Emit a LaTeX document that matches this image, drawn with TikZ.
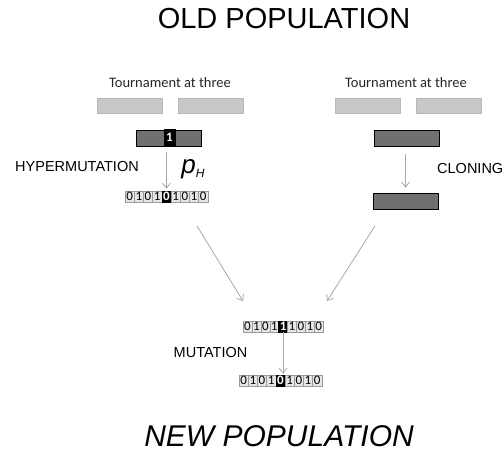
\documentclass[tikz,border=0pt]{standalone}
\usepackage{fontspec}
\setmainfont{Liberation Sans}
\newfontfamily\calfont{Carlito}
\usetikzlibrary{arrows.meta}
\definecolor{lightbox}{HTML}{C8C8C8}
\definecolor{lightedge}{HTML}{B8B8B8}
\definecolor{darkbox}{HTML}{707070}
\definecolor{cellfill}{HTML}{E6E6E6}
\definecolor{celledge}{HTML}{9A9A9A}
\definecolor{arrowgray}{HTML}{A8A8A8}
\begin{document}
\begin{tikzpicture}[x=1pt,y=-1pt,
  title/.style={inner sep=0pt,font=\fontsize{29}{32}\selectfont},
  lab/.style={inner sep=0pt,font=\fontsize{14.5}{16}\selectfont},
  tour/.style={inner sep=0pt,text=black!85,font=\calfont\fontsize{14.5}{16}\selectfont},
  lightrect/.style={draw=lightedge,fill=lightbox,minimum width=65pt,minimum height=15pt,inner sep=0pt},
  darkrect/.style={draw=black,line width=0.8pt,fill=darkbox,minimum width=65pt,minimum height=16pt,inner sep=0pt},
  cell/.style={draw=celledge,line width=0.4pt,fill=cellfill,minimum width=9.2pt,minimum height=11pt,inner sep=0pt,font=\calfont\fontsize{13}{13}\selectfont},
  hcell/.style={cell,fill=black,draw=black,text=white,font=\calfont\bfseries\fontsize{13}{13}\selectfont},
  arr/.style={draw=arrowgray,line width=0.8pt,-{Straight Barb[length=5pt,width=8pt]}}
]
\useasboundingbox (0,0) rectangle (503,453);

% titles
\node[title] (old) at (284,19) {OLD POPULATION};
\node[title,font=\fontsize{30}{32}\selectfont\itshape] (new) at (279,436.5) {NEW POPULATION};

% left branch
\node[tour] (tl) at (170,82.5) {Tournament at three};
\node[lightrect] (l1) at (129.5,105.5) {};
\node[lightrect] (l2) at (210.5,105.5) {};
\node[darkrect] (ld) at (168.5,138) {};
\node[hcell,minimum width=11pt,minimum height=17pt] (lbit) at (169.5,137.5) {1};
\node[lab] (hyp) at (77,166.5) {HYPERMUTATION};
\node[inner sep=0pt] (ph) at (193,169) {\fontsize{26}{28}\selectfont\itshape p\raisebox{-4pt}{\fontsize{12}{13}\selectfont H}};
\foreach \d/\s [count=\i from 0] in {0/cell,1/cell,0/cell,1/cell,0/hcell,1/cell,0/cell,1/cell,0/cell}
  \node[\s] (a\i) at (129.6+\i*9.2,196.5) {\d};
\draw[arr,shorten <=6pt,shorten >=2pt] (a4.north |- lbit.south) -- (a4.north);

% right branch
\node[tour] (tr) at (406,82.5) {Tournament at three};
\node[lightrect] (r1) at (368,106) {};
\node[lightrect] (r2) at (448.5,106) {};
\node[darkrect] (rd1) at (406.5,138) {};
\node[darkrect] (rd2) at (405.5,201) {};
\node[lab,anchor=west] (clo) at (437,168.5) {CLONING};
\draw[arr,shorten <=8pt,shorten >=5pt] (rd2.north |- rd1.south) -- (rd2.north);

% merge arrows
\coordinate (ls) at (197,226);
\coordinate (le) at (243,301);
\coordinate (rs) at (375,226);
\coordinate (re) at (327,301);
\draw[arr] (ls) -- (le);
\draw[arr] (rs) -- (re);

% middle strings
\foreach \d/\s [count=\i from 0] in {0/cell,1/cell,0/cell,1/cell,1/hcell,1/cell,0/cell,1/cell,0/cell}
  \node[\s,minimum width=8.9pt] (m\i) at (247.5+\i*8.9,326.5) {\d};
\node[lab] (mut) at (210.5,353) {MUTATION};
\foreach \d/\s [count=\i from 0] in {0/cell,1/cell,0/cell,1/cell,0/hcell,1/cell,0/cell,1/cell,0/cell}
  \node[\s] (b\i) at (243.6+\i*9.2,380.5) {\d};
\draw[arr,shorten >=1pt] (m4.south) -- (m4.south |- b4.north);
\end{tikzpicture}
\end{document}
